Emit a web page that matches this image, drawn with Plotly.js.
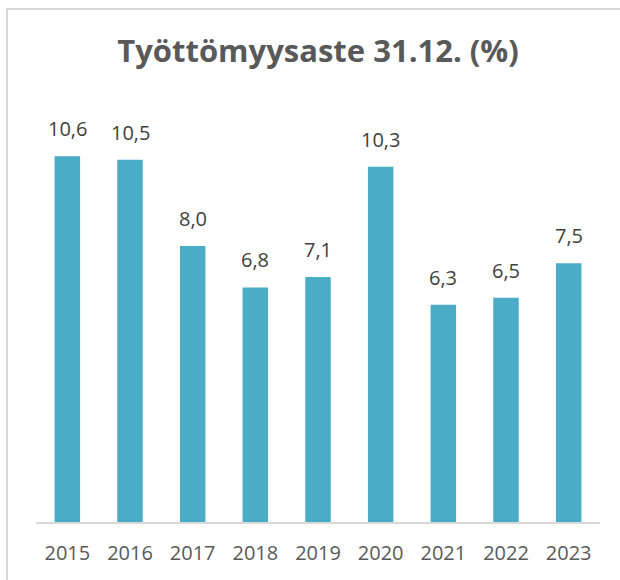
<!DOCTYPE html>
<html>
<head>
<meta charset="utf-8">
<script src="https://cdn.plot.ly/plotly-3.0.1.min.js"></script>
<style>
html,body{margin:0;padding:0;background:#fff;overflow:hidden;}
#wrap{position:relative;width:620px;height:580px;}
#frame{position:absolute;left:6px;top:8px;width:700px;height:700px;border-left:2px solid #d9d9d9;border-top:2px solid #d9d9d9;box-sizing:border-box;pointer-events:none;z-index:2;}
#chart{position:absolute;left:0;top:0;width:620px;height:580px;}
</style>
</head>
<body>
<div id="wrap"><div id="chart"></div><div id="frame"></div></div>
<script>
const years = ['2015','2016','2017','2018','2019','2020','2021','2022','2023'];
const rates = [10.6, 10.5, 8.0, 6.8, 7.1, 10.3, 6.3, 6.5, 7.5];
const chartTitle = 'Työttömyysaste 31.12. (%)';

const labels = rates.map(v => v.toFixed(1).replace('.', ','));

const trace = {
  type: 'bar',
  x: years,
  y: rates,
  marker: {color: '#4BACC6'},
  hoverinfo: 'none'
};

const annotations = years.map((yr, i) => ({
  x: i, y: rates[i], xref: 'x', yref: 'y',
  text: labels[i], showarrow: false,
  yanchor: 'bottom', yshift: 12,
  font: {family: 'Open Sans', size: 20, color: '#404040'}
}));

const layout = {
  width: 620, height: 580,
  margin: {l: 36, r: 20, t: 108, b: 58},
  paper_bgcolor: '#ffffff', plot_bgcolor: '#ffffff',
  bargap: 0.593,
  showlegend: false,
  title: {
    text: '<b>' + chartTitle + '</b>',
    x: 0.5, xref: 'paper', xanchor: 'center',
    y: 1 - 51/580, yref: 'container', yanchor: 'middle',
    font: {family: 'Open Sans', size: 31, color: '#595959'}
  },
  xaxis: {
    type: 'category',
    range: [-0.5, years.length - 0.5],
    showline: true, linecolor: '#d9d9d9', linewidth: 2,
    showgrid: false, zeroline: false, ticks: '',
    ticklabelstandoff: 12,
    tickfont: {family: 'Open Sans', size: 20, color: '#595959'}
  },
  yaxis: {
    range: [0, 12], visible: false, showgrid: false, zeroline: false, fixedrange: true
  },
  annotations: annotations
};

Plotly.newPlot('chart', [trace], layout, {displayModeBar: false, staticPlot: true});
</script>
</body>
</html>
